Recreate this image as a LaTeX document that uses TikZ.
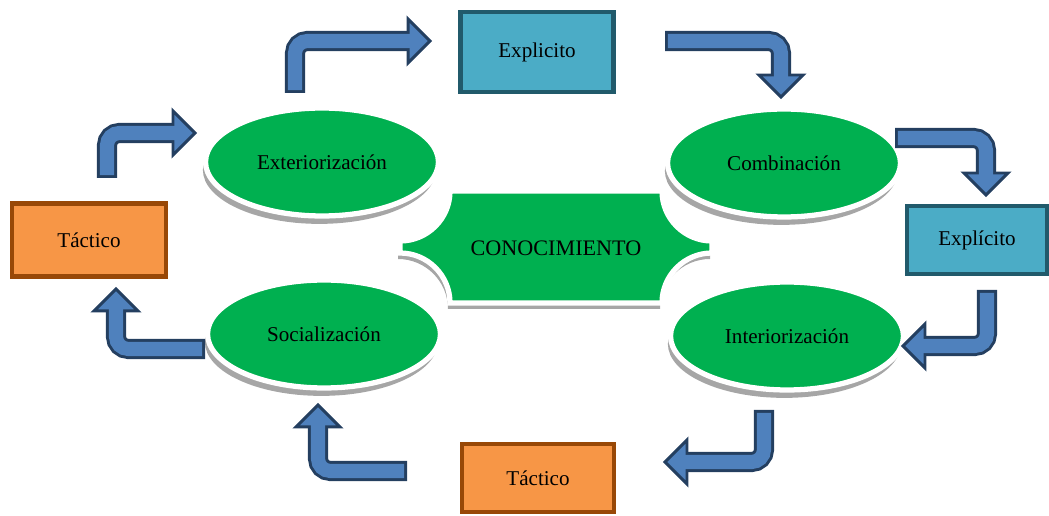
\documentclass[tikz,border=0pt]{standalone}
\usepackage{fontspec}
\setmainfont{Liberation Serif}
\usetikzlibrary{shapes.geometric,shadows,calc}
\definecolor{verde}{HTML}{00B050}
\definecolor{sombra}{HTML}{A6A6A6}
\definecolor{azul}{HTML}{4BACC6}
\definecolor{azulborde}{HTML}{215A6B}
\definecolor{naranja}{HTML}{F79646}
\definecolor{naranjaborde}{HTML}{984807}
\definecolor{flecha}{HTML}{4F81BD}
\definecolor{flechaborde}{HTML}{243F60}
\newcommand{\txt}{\fontsize{12}{14}\selectfont}
% bent arrow: start, corner, tip
\newcommand{\bent}[3]{%
  \coordinate (hb) at ($(#3)!0.44cm!(#2)$);
  \draw[line width=11.4pt,flechaborde,rounded corners=7pt] (#1) -- (#2) -- (hb);
  \filldraw[fill=flecha,draw=flechaborde,line width=1.7pt,line join=miter]
    ($(hb)!0.44cm!90:(#3)$) -- (#3) -- ($(hb)!0.44cm!-90:(#3)$) -- cycle;
  \draw[line width=8pt,flecha,rounded corners=7pt,shorten <=1.7pt] (#1) -- (#2) -- ($(hb)!0.1cm!(#3)$);
}
\newcommand{\placa}{(400,241) .. controls (427.6,241) and (450,218.6) .. (450,191)
  -- (662,191) .. controls (662,218.6) and (684.4,241) .. (712,241)
  -- (712,253) .. controls (684.4,253) and (662,275.4) .. (662,303)
  -- (450,303) .. controls (450,275.4) and (427.6,253) .. (400,253) -- cycle}
\tikzset{
  fase/.style={ellipse,fill=verde,draw=white,line width=3pt,minimum width=4.66cm,
    minimum height=2.16cm,font=\txt,
    drop shadow={shadow xshift=-1.5pt,shadow yshift=-4.5pt,fill=sombra,opacity=1}},
  explicito/.style={rectangle,fill=azul,draw=azulborde,line width=2.5pt,font=\txt},
  tacito/.style={rectangle,fill=naranja,draw=naranjaborde,line width=2.5pt,font=\txt}
}

\begin{document}
\begin{tikzpicture}[x=0.02cm,y=-0.02cm]
      \useasboundingbox (0,0) rectangle (1049,516);
      \fill[sombra,shift={(-2,6)}] \placa;
      \filldraw[fill=verde,draw=white,line width=3pt] \placa;
      \node (conoc) at (556,248) {\fontsize{12.6}{15}\selectfont CONOCIMIENTO};
      \node[fase] (ext)   at (322,162) {Exteriorización};
      \node[fase] (comb)  at (784,163) {Combinación};
      \node[fase] (soc)   at (324,334) {Socialización};
      \node[fase] (inter) at (787,336) {Interiorización};
      \node[explicito,minimum width=3.06cm,minimum height=1.6cm] (expSup) at (537,52) {Explicito};
      \node[explicito,minimum width=2.8cm,minimum height=1.36cm] (expDer) at (977,240) {Explícito};
      \node[tacito,minimum width=3.08cm,minimum height=1.46cm] (tacIzq) at (89,240) {Táctico};
      \node[tacito,minimum width=3.04cm,minimum height=1.36cm] (tacInf) at (538,478) {Táctico};
      \bent{107,178}{107,133}{195,133}
      \bent{295,93}{295,41}{430,41}
      \bent{665,41}{781,41}{781,97}
      \bent{895,138}{986,138}{986,195}
      \bent{987,290}{987,346}{903,346}
      \bent{764,410}{764,462}{665,462}
      \bent{407,471}{318,471}{318,405}
      \bent{205,349}{116,349}{116,289}
\end{tikzpicture}
\end{document}
